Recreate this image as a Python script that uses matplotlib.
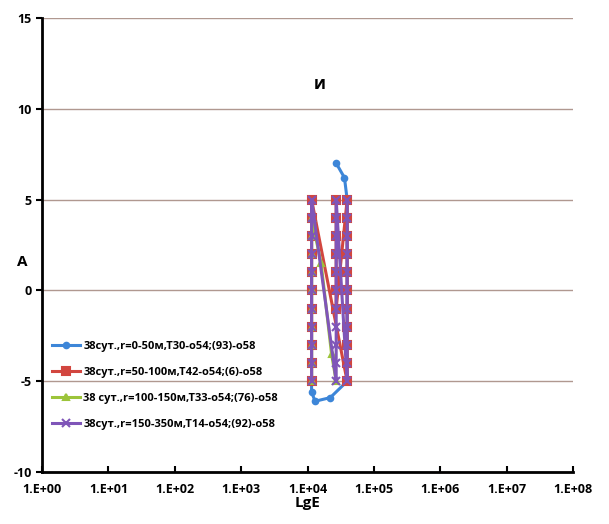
import numpy as np
import matplotlib
matplotlib.use("Agg")
from matplotlib import pyplot as plt

# energy columns (J) and amplitude steps
x1, x2, x3 = 1.15e4, 2.7e4, 3.95e4
steps_dn = [5, 4, 3, 2, 1, 0, -1, -2, -3, -4, -5]
steps_up = steps_dn[::-1]

labels = ['38сут.,r=0-50м,T30-о54;(93)-о58',
          '38сут.,r=50-100м,T42-о54;(6)-о58',
          '38 сут.,r=100-150м,T33-о54;(76)-о58',
          '38сут.,r=150-350м,T14-о54;(92)-о58']

s1_x = [x2, 3.6e4, x3] + [x3] * 10 + [2.2e4, 1.3e4, x1] + [x1] * 10
s1_y = [7, 6.2, 5] + steps_dn[1:] + [-5.9, -6.1, -5.6] + steps_up[1:]

s2_x = [x1] * 11 + [x3] * 11 + [x2] * 7
s2_y = steps_up + steps_up + [-1, 0, 1, 2, 3, 4, 5]

s3_x = [x1] * 10 + [1.6e4, 2.3e4, x2]
s3_y = steps_up[:10] + [1.5, -3.5, -5]

s4_x = [x1] * 11 + [x2] * 11 + [x3] * 11
s4_y = steps_up + steps_up + steps_up

series = [(s1_x, s1_y), (s2_x, s2_y), (s3_x, s3_y), (s4_x, s4_y)]
colors = ['#3d86d8', '#d2463f', '#9cc43a', '#7f55b8']
markers = ['o', 's', '^', 'x']
msizes = [4, 6, 5, 6]

plt.rcParams['font.family'] = ['Open Sans', 'DejaVu Sans']
plt.rcParams['font.weight'] = 'bold'
plt.rcParams['axes.unicode_minus'] = False

fig = plt.figure(figsize=(6.09, 5.24), dpi=100)
ax = fig.add_axes([0.069, 0.099, 0.872, 0.867])

for (xs, ys), c, m, ms, lab in zip(series, colors, markers, msizes, labels):
    ax.plot(xs, ys, color=c, marker=m, markersize=ms, linewidth=2.2,
            markeredgewidth=1.5, label=lab)

ax.set_xscale('log')
ax.set_xlim(1, 1e8)
ax.set_ylim(-10, 15)
ax.set_yticks([-10, -5, 0, 5, 10, 15])
ax.set_xticks([10.0 ** k for k in range(9)])
ax.set_xticklabels(['1.E+%02d' % k for k in range(9)])
ax.minorticks_off()
ax.tick_params(axis='both', labelsize=9, width=1.5, length=4)
ax.tick_params(axis='x', direction='in', pad=8)

ax.grid(axis='y', color='#b09890', linewidth=1)
ax.set_axisbelow(True)
for s in ['top', 'right']:
    ax.spines[s].set_visible(False)
for s in ['left', 'bottom']:
    ax.spines[s].set_linewidth(2)

ax.set_xlabel('LgE', fontsize=11, fontweight='bold', labelpad=0)
ax.text(-0.038, 0.463, 'A', transform=ax.transAxes, fontsize=11,
        fontweight='bold', ha='center', va='center')
ax.text(0.523, 0.855, 'и', transform=ax.transAxes, fontsize=12,
        fontweight='bold', ha='center', va='center')

ax.legend(loc='lower left', bbox_to_anchor=(0.0, 0.07), frameon=False,
          fontsize=8, labelspacing=1.35, handlelength=2.5, handletextpad=0.3)

fig.savefig('out.png', dpi=100)
